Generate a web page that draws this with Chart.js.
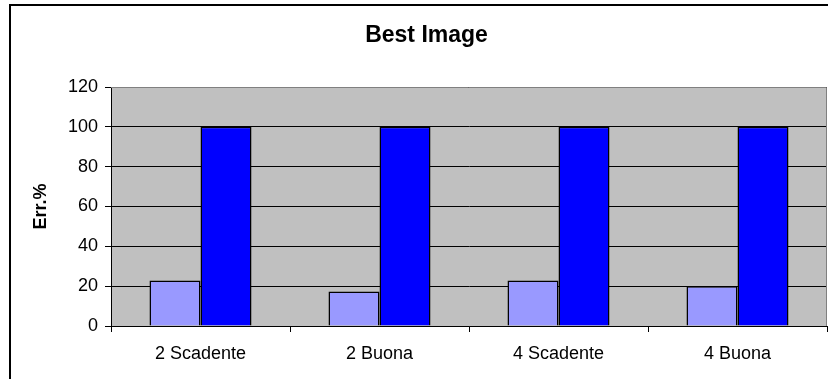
<!DOCTYPE html>
<html>
<head>
<meta charset="utf-8">
<title>Best Image</title>
<script src="https://cdn.jsdelivr.net/npm/chart.js@4/dist/chart.umd.min.js"></script>
<style>
  html, body { margin: 0; padding: 0; background: #fff; }
  #wrap { width: 828px; height: 379px; }
</style>
</head>
<body>
<div id="wrap"><canvas id="bestImageChart" width="828" height="379"></canvas></div>
<script>
// categories and error percentages per category
const categories = ['2 Scadente', '2 Buona', '4 Scadente', '4 Buona'];
const errSerie1 = [22.8, 17.3, 22.8, 20];
const errSerie2 = [100, 100, 100, 100];
const yTicks = [0, 20, 40, 60, 80, 100, 120];

const FONT = "'Liberation Sans', Arial, sans-serif";

// grey plot background + frame around the whole chart
const plotFrame = {
  id: 'plotFrame',
  afterLayout(chart) {
    // nudge the title a little to the right, over the plot
    const t = chart.titleBlock;
    if (t) { t.left += 26; }
  },
  beforeDraw(chart) {
    const { ctx, chartArea: a } = chart;
    ctx.save();
    ctx.fillStyle = '#fff';
    ctx.fillRect(0, 0, chart.width, chart.height);
    ctx.strokeStyle = '#000';
    ctx.lineWidth = 2;
    ctx.beginPath();
    ctx.moveTo(10, chart.height);
    ctx.lineTo(10, 5);
    ctx.lineTo(chart.width, 5);
    ctx.stroke();
    ctx.fillStyle = '#c0c0c0';
    ctx.fillRect(a.left, a.top, a.right - a.left, a.bottom - a.top);
    ctx.restore();
  },
  afterDatasetsDraw(chart) {
    const { ctx, chartArea: a } = chart;
    ctx.save();
    ctx.strokeStyle = '#808080';
    ctx.lineWidth = 1;
    ctx.beginPath();
    ctx.moveTo(a.left, a.top + 0.5);
    ctx.lineTo(a.right - 0.5, a.top + 0.5);
    ctx.lineTo(a.right - 0.5, a.bottom);
    ctx.stroke();
    ctx.restore();
  }
};

const ctx = document.getElementById('bestImageChart').getContext('2d');
const data = {
  labels: categories,
  datasets: [
    { label: 'Serie1', data: errSerie1, backgroundColor: '#9999ff', borderColor: '#000', borderWidth: 1.5 },
    { label: 'Serie2', data: errSerie2, backgroundColor: '#0000ff', borderColor: '#000', borderWidth: 1.5 }
  ]
};
const options = {
  responsive: false, animation: false,
  layout: { padding: { left: 0, right: 1, top: 0, bottom: 0 } },
  datasets: { bar: { categoryPercentage: 0.57, barPercentage: 1 } },
  plugins: {
    legend: { display: false },
    tooltip: { enabled: false },
    title: {
      display: true, text: 'Best Image', color: '#000',
      font: { family: FONT, size: 23, weight: 'bold' },
      padding: { top: 22, bottom: 37.4 }
    }
  },
  scales: {
    x: {
      grid: { display: true, offset: true, drawOnChartArea: false, drawTicks: true, tickLength: 6, color: '#000' },
      border: { display: true, color: '#000' },
      ticks: { color: '#000', padding: 11, maxRotation: 0, font: { family: FONT, size: 18 } },
      afterFit: s => { s.height = 53; }
    },
    y: {
      min: 0, max: 120,
      afterBuildTicks: s => { s.ticks = yTicks.map(v => ({ value: v })); },
      grid: { color: '#000', lineWidth: 1, tickLength: 6 },
      border: { display: true, color: '#000' },
      ticks: { color: '#000', padding: 7, font: { family: FONT, size: 18 } },
      title: {
        display: true, text: 'Err.%', color: '#000',
        font: { family: FONT, size: 18, weight: 'bold' },
        padding: { top: 30, bottom: 0 }
      },
      afterFit: s => { s.width = 111; }
    }
  }
};
new Chart(ctx, { type: 'bar', data, options, plugins: [plotFrame] });
</script>
</body>
</html>
